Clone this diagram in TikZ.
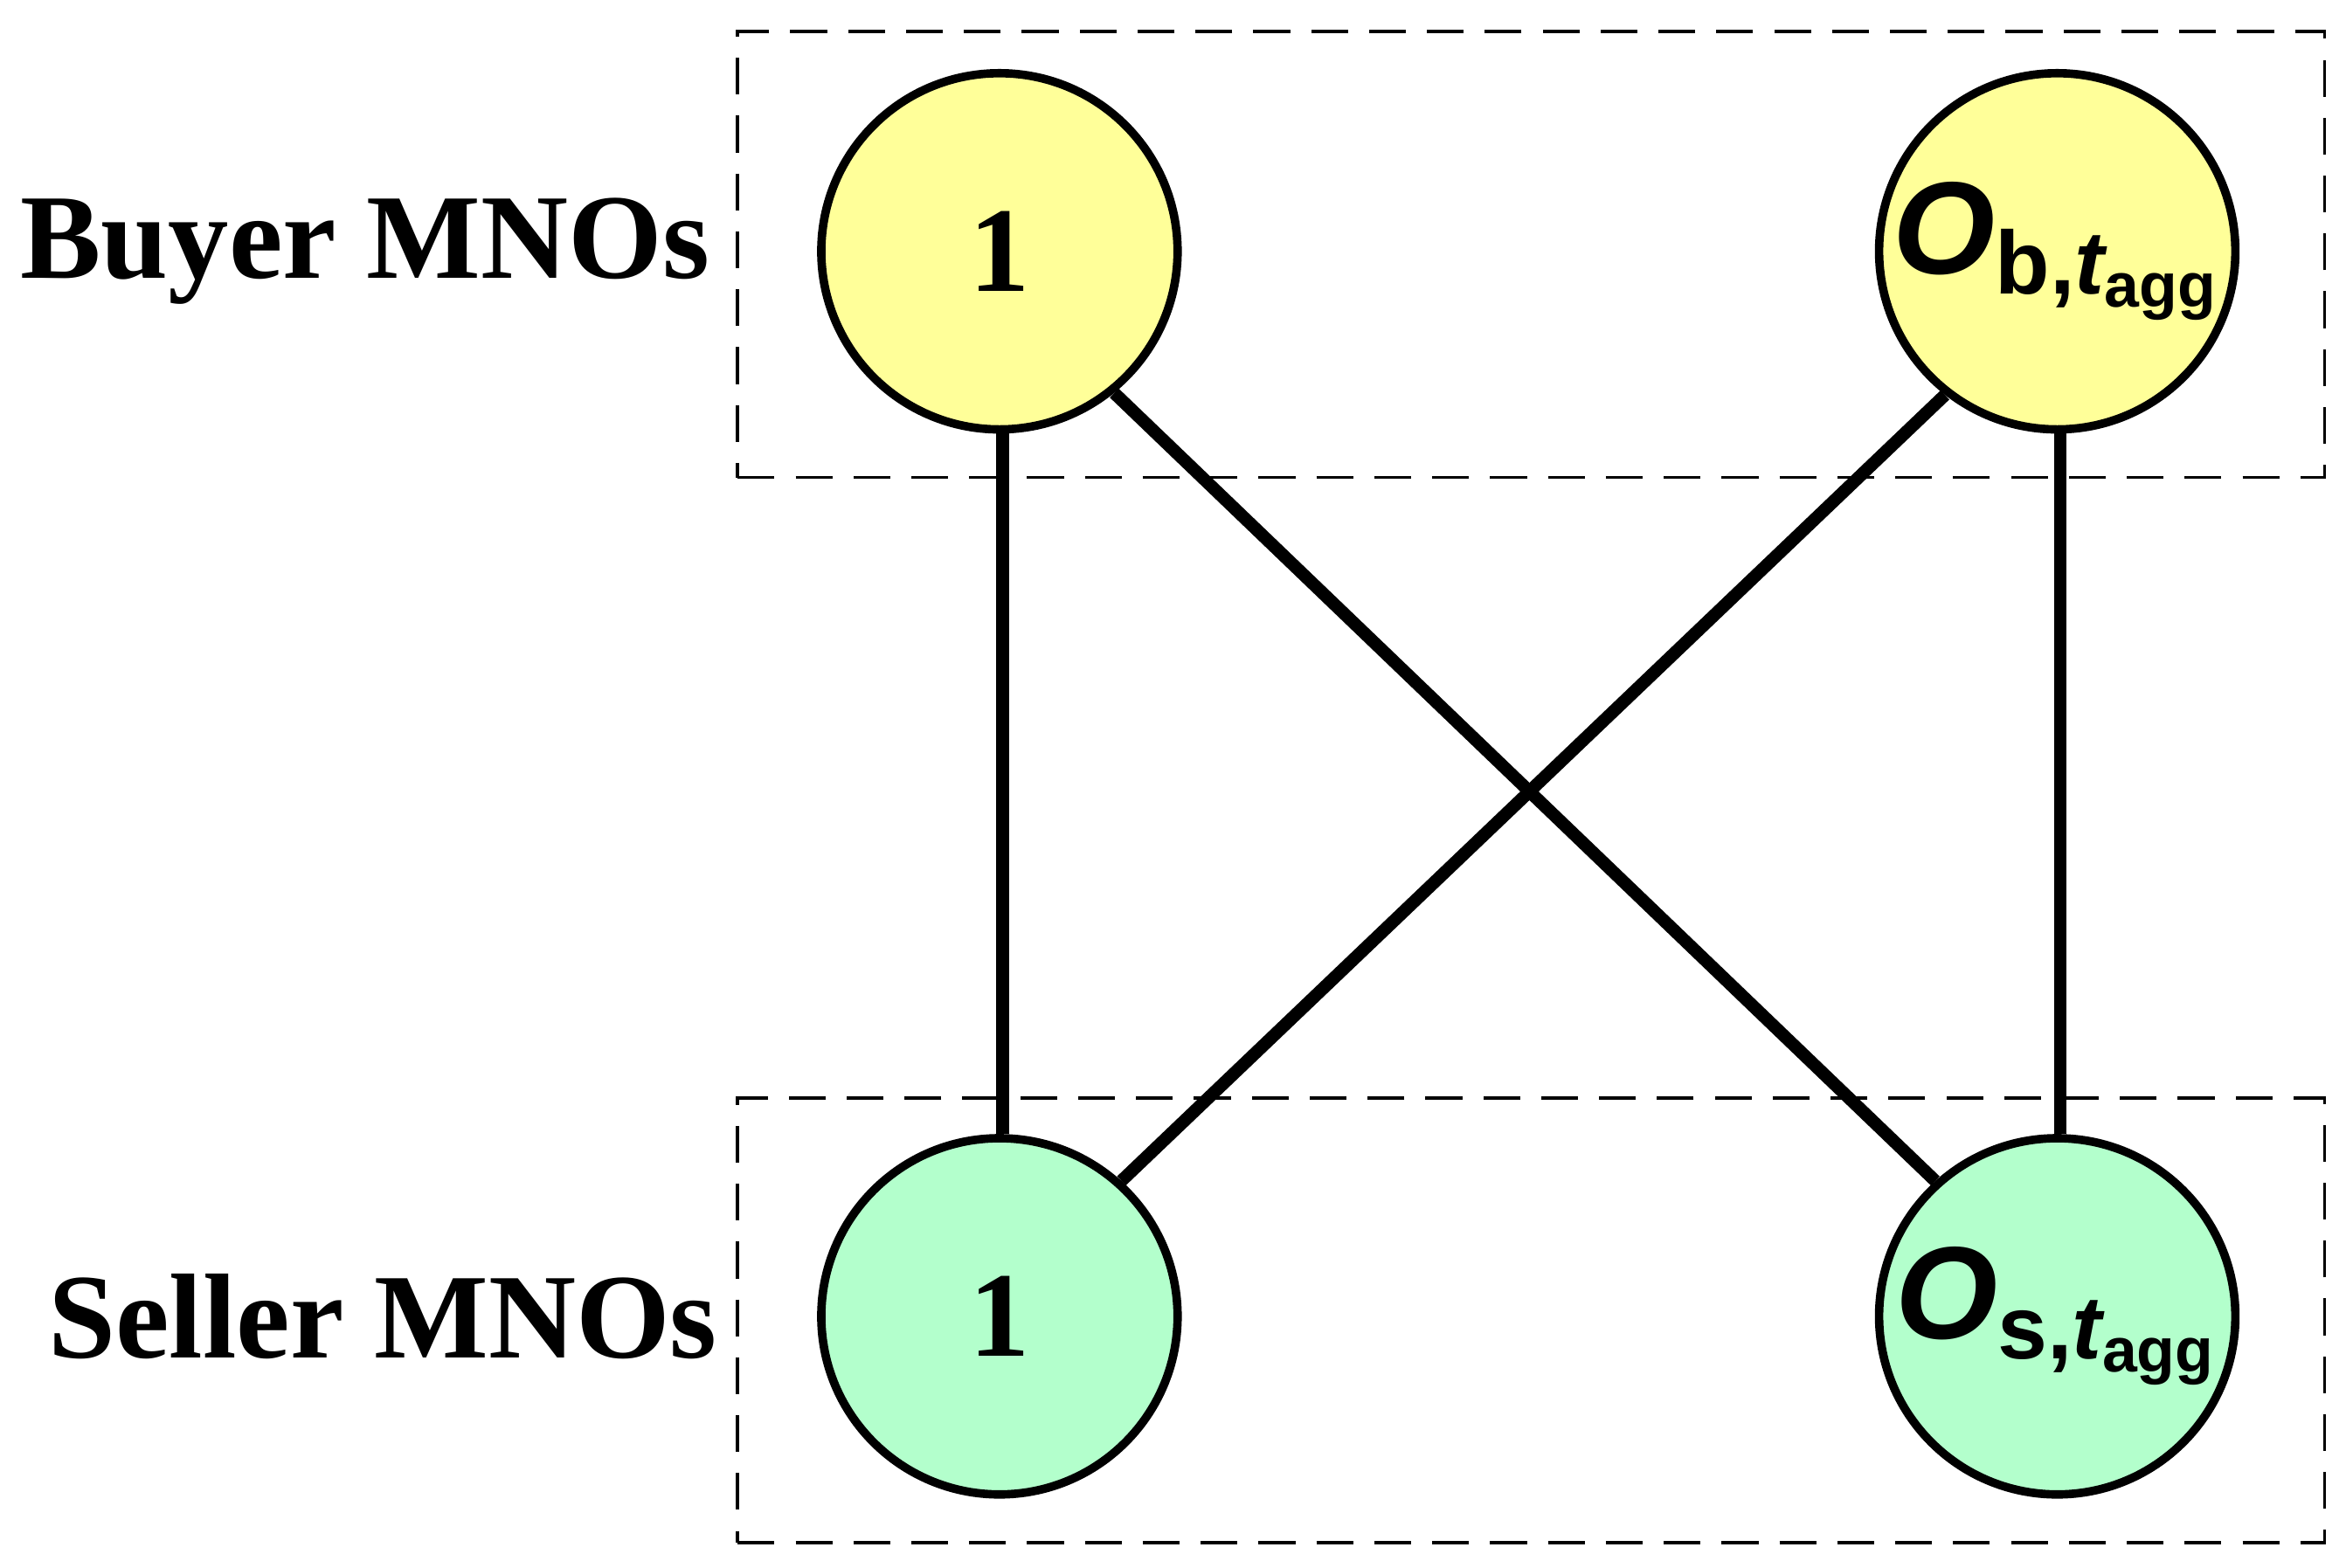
\documentclass[tikz,border=0pt]{standalone}
\usepackage{fontspec}
\setmainfont{Liberation Serif}
\newfontfamily\sansb{Liberation Sans}
\definecolor{byel}{HTML}{FFFF99}
\definecolor{sgrn}{HTML}{B3FFCC}
\begin{document}
\begin{tikzpicture}[x=0.01cm,y=-0.01cm,
  mno/.style={circle,draw=black,line width=1.6pt,minimum size=2.38cm,inner sep=0pt},
  buyer/.style={mno,fill=byel},
  seller/.style={mno,fill=sgrn},
  grp/.style={draw,line width=0.6pt,dash pattern=on 7pt off 4pt},
  link/.style={line width=2.4pt},
  lbl/.style={font=\fontsize{23}{27}\selectfont\bfseries},
  olbl/.style={font=\sansb\bfseries\itshape\fontsize{25}{29}\selectfont}]
\useasboundingbox (0,0) rectangle (1568,1048);
\node[grp,minimum width=10.6cm,minimum height=2.98cm,anchor=north west] (tb) at (492,20) {};
\node[grp,minimum width=10.6cm,minimum height=2.97cm,anchor=north west] (bb) at (492,733) {};
\node[buyer] (b1) at (668,168) {};
\node[lbl] at (b1) {1};
\node[buyer] (bo) at (1375,168) {};
\node[olbl] at (bo) {O\textsubscript{\upshape\fontsize{17}{19}\selectfont b,\itshape t\textsubscript{\upshape agg}}};
\node[seller] (s1) at (668,880) {};
\node[lbl] at (s1) {1};
\node[seller] (so) at (1375,880) {};
\node[olbl] at (so) {O\textsubscript{\upshape\fontsize{17}{19}\selectfont s,\itshape t\textsubscript{\upshape agg}}};
\node[lbl,anchor=east,inner sep=0pt] (bl) at (475,168) {Buyer MNOs};
\node[lbl,anchor=east,inner sep=0pt] (sl) at (480,880) {Seller MNOs};
\draw[link] (b1.-89) -- (s1.89);
\draw[link] (bo.-89) -- (so.89);
\draw[link] (b1.-51) -- (so.132);
\draw[link] (bo.-128) -- (s1.48);
\end{tikzpicture}
\end{document}
